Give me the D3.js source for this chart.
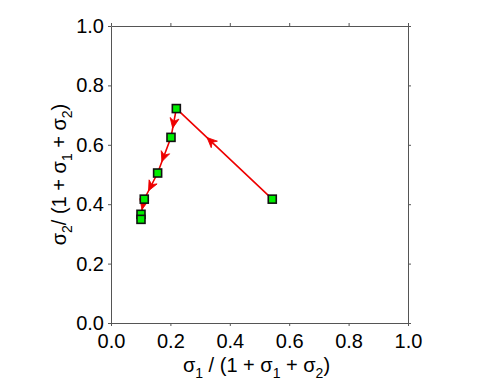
<!DOCTYPE html>
<html>
<head>
<meta charset="utf-8">
<title>sigma trajectory</title>
<script src="https://cdn.jsdelivr.net/npm/d3@7"></script>
<style>
  body { margin: 0; background: #fff; }
  text { font-family: "Liberation Sans", Arial, sans-serif; }
</style>
</head>
<body>
<svg width="501" height="383"></svg>
<script>
// trajectory, in order of travel
var xVals = [0.543, 0.220, 0.202, 0.157, 0.112, 0.101, 0.101];
var yVals = [0.417, 0.722, 0.625, 0.505, 0.417, 0.366, 0.349];
var ticks = [0, 0.2, 0.4, 0.6, 0.8, 1.0];

var svg = d3.select("svg"),
    margin = { top: 26, left: 111 },
    width = 297,
    height = 297,
    g = svg.append("g").attr("transform", "translate(" + margin.left + "," + margin.top + ")");

var x = d3.scaleLinear().domain([0, 1]).range([0, width]);
var y = d3.scaleLinear().domain([0, 1]).range([height, 0]);

// frame and ticks on all four sides
function styleAxis(sel, labels) {
  sel.select(".domain").attr("stroke", "#555").attr("stroke-width", 1);
  sel.selectAll(".tick line").attr("stroke", "#555");
  sel.selectAll(".tick text").attr("font-size", 20).attr("fill", "#000");
  if (!labels) sel.selectAll(".tick text").remove();
}
g.append("g").attr("transform", "translate(0," + height + ")")
  .call(d3.axisBottom(x).tickValues(ticks).tickFormat(d3.format(".1f")).tickSize(3).tickSizeOuter(0).tickPadding(8))
  .call(styleAxis, true);
g.append("g")
  .call(d3.axisLeft(y).tickValues(ticks).tickFormat(d3.format(".1f")).tickSize(3).tickSizeOuter(0).tickPadding(4))
  .call(styleAxis, true);
g.append("g")
  .call(d3.axisTop(x).tickValues(ticks).tickSize(3).tickSizeOuter(0))
  .call(styleAxis, false);
g.append("g").attr("transform", "translate(" + width + ",0)")
  .call(d3.axisRight(y).tickValues(ticks).tickSize(3).tickSizeOuter(0))
  .call(styleAxis, false);

// axis titles with subscripts
var xt = svg.append("text").attr("x", margin.left + width / 2 - 3).attr("y", 372)
  .attr("text-anchor", "middle").attr("font-size", 20);
xt.append("tspan").text("σ");
xt.append("tspan").attr("font-size", 14).attr("dy", 6).text("1");
xt.append("tspan").attr("dy", -6).text(" / (1 + σ");
xt.append("tspan").attr("font-size", 14).attr("dy", 6).text("1");
xt.append("tspan").attr("dy", -6).text(" + σ");
xt.append("tspan").attr("font-size", 14).attr("dy", 6).text("2");
xt.append("tspan").attr("dy", -6).text(")");

var yt = svg.append("text").attr("transform", "translate(66," + (margin.top + height / 2) + ") rotate(-90)")
  .attr("text-anchor", "middle").attr("font-size", 20);
yt.append("tspan").text("σ");
yt.append("tspan").attr("font-size", 14).attr("dy", 6).text("2");
yt.append("tspan").attr("dy", -6).text("/ (1 + σ");
yt.append("tspan").attr("font-size", 14).attr("dy", 6).text("1");
yt.append("tspan").attr("dy", -6).text(" + σ");
yt.append("tspan").attr("font-size", 14).attr("dy", 6).text("2");
yt.append("tspan").attr("dy", -6).text(")");

var pts = xVals.map(function (d, i) { return [x(d), y(yVals[i])]; });

// connecting line
g.append("path")
  .attr("d", d3.line()(pts))
  .attr("fill", "none")
  .attr("stroke", "#ee0000")
  .attr("stroke-width", 1.6);

// arrowheads along each segment
for (var i = 0; i < pts.length - 2; i++) {
  var a = pts[i], b = pts[i + 1];
  var tx = a[0] + (b[0] - a[0]) * 0.68, ty = a[1] + (b[1] - a[1]) * 0.68;
  var ang = Math.atan2(b[1] - a[1], b[0] - a[0]) * 180 / Math.PI;
  g.append("path")
    .attr("transform", "translate(" + tx + "," + ty + ") rotate(" + ang + ")")
    .attr("d", "M0,0 L-10,-4.5 L-7,0 L-10,4.5 Z")
    .attr("fill", "#ee0000")
    .attr("stroke", "#ee0000")
    .attr("stroke-width", 0.8);
}

// square markers
g.selectAll("rect.pt")
  .data(pts)
  .enter().append("rect")
  .attr("class", "pt")
  .attr("x", function (d) { return d[0] - 4; })
  .attr("y", function (d) { return d[1] - 4; })
  .attr("width", 8)
  .attr("height", 8)
  .attr("fill", "#00ee00")
  .attr("stroke", "#111")
  .attr("stroke-width", 1.6);
</script>
</body>
</html>
